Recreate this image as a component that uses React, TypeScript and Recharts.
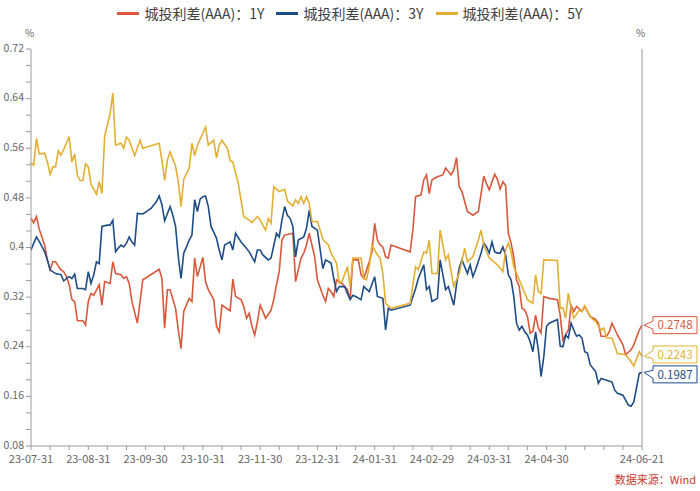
import React from 'react';
import { LineChart, Line, XAxis, YAxis } from 'recharts';

// 城投利差(AAA) 1Y / 3Y / 5Y，x 为交易日序号（0 = 23-07-31，224 = 24-06-21）
const SERIES_NAMES = ['城投利差(AAA)：1Y', '城投利差(AAA)：3Y', '城投利差(AAA)：5Y'];
const COLORS = ['#D9583B', '#1D4C87', '#E3AF32'];

const SPREAD_1Y: [number, number][] = [
  [0, 0.447], [1, 0.44], [2, 0.45], [3, 0.43], [4, 0.417], [5, 0.404], [6, 0.38], [7, 0.364], [8, 0.377], [9, 0.377],
  [10, 0.37], [11, 0.364], [12, 0.361], [13, 0.353], [14, 0.34], [15, 0.316], [16, 0.313], [17, 0.282], [19, 0.282],
  [20, 0.275], [21, 0.313], [22, 0.326], [23, 0.323], [25, 0.34], [26, 0.307], [27, 0.345], [29, 0.342], [30, 0.377],
  [31, 0.358], [33, 0.356], [34, 0.35], [35, 0.353], [36, 0.342], [37, 0.313], [39, 0.278], [41, 0.348], [47, 0.365],
  [48, 0.35], [49, 0.27], [50, 0.332], [51, 0.332], [53, 0.302], [54, 0.267], [55, 0.237], [56, 0.297], [58, 0.318],
  [59, 0.313], [60, 0.383], [61, 0.353], [63, 0.384], [64, 0.345], [65, 0.332], [67, 0.316], [68, 0.273], [69, 0.264],
  [70, 0.307], [73, 0.298], [74, 0.349], [75, 0.321], [77, 0.316], [78, 0.305], [79, 0.286], [80, 0.294], [81, 0.273],
  [82, 0.259], [83, 0.28], [84, 0.307], [85, 0.297], [86, 0.286], [88, 0.299], [89, 0.316], [90, 0.34], [91, 0.361],
  [92, 0.412], [93, 0.42], [96, 0.423], [97, 0.345], [99, 0.383], [100, 0.391], [101, 0.404], [102, 0.423], [104, 0.385],
  [105, 0.348], [107, 0.323], [108, 0.313], [109, 0.334], [110, 0.329], [111, 0.321], [112, 0.348], [114, 0.342],
  [116, 0.332], [117, 0.316], [118, 0.38], [120, 0.38], [121, 0.356], [122, 0.35], [124, 0.377], [125, 0.393],
  [126, 0.439], [127, 0.412], [128, 0.404], [129, 0.401], [130, 0.385], [131, 0.383], [132, 0.404], [139, 0.393],
  [140, 0.428], [141, 0.482], [143, 0.485], [144, 0.509], [145, 0.517], [146, 0.487], [147, 0.509], [149, 0.514],
  [151, 0.517], [152, 0.528], [154, 0.517], [155, 0.525], [156, 0.545], [157, 0.498], [158, 0.49], [160, 0.458],
  [162, 0.452], [164, 0.458], [166, 0.515], [167, 0.503], [168, 0.493], [170, 0.518], [171, 0.51], [172, 0.494],
  [173, 0.506], [174, 0.5], [175, 0.423], [176, 0.407], [177, 0.385], [178, 0.348], [179, 0.337], [180, 0.302],
  [181, 0.299], [182, 0.289], [183, 0.262], [184, 0.265], [185, 0.291], [186, 0.27], [187, 0.262], [188, 0.321],
  [190, 0.318], [193, 0.316], [194, 0.291], [195, 0.251], [197, 0.267], [198, 0.307], [199, 0.297], [200, 0.305],
  [202, 0.297], [203, 0.305], [205, 0.289], [207, 0.284], [208, 0.278], [209, 0.257], [211, 0.257], [212, 0.264],
  [213, 0.278], [215, 0.259], [217, 0.243], [218, 0.227], [220, 0.235], [221, 0.243], [223, 0.267], [224, 0.2748],
];

const SPREAD_3Y: [number, number][] = [
  [0, 0.396], [1, 0.407], [2, 0.417], [3, 0.41], [4, 0.402], [5, 0.393], [6, 0.38], [7, 0.364], [9, 0.358], [11, 0.356],
  [12, 0.346], [13, 0.35], [14, 0.353], [15, 0.35], [16, 0.357], [17, 0.334], [19, 0.334], [20, 0.332], [21, 0.361],
  [22, 0.342], [23, 0.356], [24, 0.377], [25, 0.374], [26, 0.434], [28, 0.436], [29, 0.436], [30, 0.444], [31, 0.393],
  [32, 0.399], [33, 0.404], [34, 0.401], [35, 0.407], [36, 0.417], [37, 0.409], [38, 0.404], [39, 0.455], [41, 0.454],
  [44, 0.463], [46, 0.474], [47, 0.483], [48, 0.469], [49, 0.443], [51, 0.466], [52, 0.452], [53, 0.434], [54, 0.385],
  [55, 0.35], [56, 0.391], [57, 0.401], [58, 0.412], [59, 0.42], [60, 0.477], [61, 0.458], [62, 0.478], [63, 0.482],
  [64, 0.483], [65, 0.466], [66, 0.434], [68, 0.415], [69, 0.396], [70, 0.38], [71, 0.404], [73, 0.409], [74, 0.396],
  [75, 0.423], [77, 0.409], [78, 0.404], [80, 0.393], [82, 0.377], [83, 0.396], [84, 0.396], [85, 0.388], [87, 0.38],
  [88, 0.383], [90, 0.423], [91, 0.417], [92, 0.444], [93, 0.466], [94, 0.452], [95, 0.447], [96, 0.434], [97, 0.385],
  [98, 0.412], [100, 0.417], [101, 0.431], [102, 0.46], [103, 0.434], [105, 0.428], [107, 0.366], [108, 0.38],
  [110, 0.375], [111, 0.35], [112, 0.329], [113, 0.337], [115, 0.337], [116, 0.326], [117, 0.316], [118, 0.323],
  [119, 0.321], [121, 0.316], [122, 0.337], [124, 0.329], [126, 0.353], [127, 0.321], [129, 0.318], [130, 0.267],
  [131, 0.302], [132, 0.299], [139, 0.307], [141, 0.334], [142, 0.35], [144, 0.372], [145, 0.332], [146, 0.337],
  [147, 0.313], [149, 0.318], [150, 0.38], [152, 0.332], [153, 0.337], [155, 0.307], [156, 0.34], [157, 0.367],
  [158, 0.38], [160, 0.358], [161, 0.372], [162, 0.353], [163, 0.364], [165, 0.391], [166, 0.407], [167, 0.401],
  [168, 0.391], [169, 0.409], [170, 0.393], [171, 0.391], [172, 0.391], [173, 0.401], [174, 0.388], [175, 0.356],
  [176, 0.348], [177, 0.321], [178, 0.278], [179, 0.267], [180, 0.273], [181, 0.264], [182, 0.259], [183, 0.248],
  [184, 0.232], [185, 0.264], [186, 0.235], [187, 0.192], [188, 0.224], [189, 0.273], [190, 0.278], [193, 0.284],
  [194, 0.241], [195, 0.24], [196, 0.259], [197, 0.254], [198, 0.278], [199, 0.267], [200, 0.257], [201, 0.259],
  [202, 0.254], [203, 0.232], [204, 0.23], [205, 0.211], [207, 0.2], [208, 0.181], [209, 0.189], [211, 0.186],
  [213, 0.183], [214, 0.17], [215, 0.165], [217, 0.162], [218, 0.154], [219, 0.146], [220, 0.144], [221, 0.151],
  [223, 0.197], [224, 0.1987],
];

const SPREAD_5Y: [number, number][] = [
  [0, 0.536], [1, 0.533], [2, 0.576], [3, 0.551], [5, 0.552], [6, 0.538], [7, 0.518], [8, 0.53], [9, 0.53], [10, 0.556],
  [11, 0.549], [12, 0.558], [14, 0.579], [15, 0.538], [16, 0.551], [17, 0.516], [18, 0.508], [19, 0.508], [20, 0.535],
  [21, 0.53], [22, 0.502], [24, 0.486], [25, 0.506], [26, 0.487], [27, 0.579], [29, 0.616], [30, 0.649], [31, 0.565],
  [33, 0.568], [34, 0.56], [35, 0.578], [36, 0.573], [38, 0.548], [40, 0.573], [41, 0.56], [47, 0.568], [48, 0.54],
  [49, 0.508], [50, 0.541], [51, 0.554], [53, 0.531], [54, 0.506], [55, 0.466], [56, 0.51], [58, 0.528], [59, 0.568],
  [60, 0.548], [61, 0.565], [64, 0.594], [65, 0.565], [67, 0.573], [68, 0.544], [69, 0.565], [70, 0.573], [72, 0.56],
  [73, 0.54], [74, 0.538], [76, 0.503], [78, 0.45], [80, 0.444], [81, 0.44], [83, 0.45], [84, 0.444], [86, 0.428],
  [87, 0.447], [88, 0.439], [89, 0.498], [91, 0.49], [93, 0.494], [94, 0.475], [96, 0.467], [97, 0.477], [98, 0.471],
  [99, 0.482], [100, 0.471], [101, 0.482], [102, 0.471], [103, 0.442], [105, 0.442], [106, 0.428], [107, 0.413],
  [109, 0.404], [110, 0.391], [112, 0.375], [113, 0.342], [114, 0.345], [116, 0.369], [117, 0.337], [118, 0.383],
  [121, 0.383], [122, 0.35], [123, 0.348], [124, 0.369], [125, 0.404], [127, 0.388], [128, 0.383], [129, 0.358],
  [130, 0.31], [132, 0.302], [139, 0.31], [141, 0.369], [142, 0.364], [144, 0.393], [145, 0.391], [146, 0.412],
  [147, 0.358], [149, 0.358], [150, 0.428], [152, 0.38], [153, 0.388], [154, 0.361], [155, 0.337], [157, 0.358],
  [159, 0.399], [160, 0.377], [162, 0.385], [164, 0.412], [165, 0.428], [166, 0.404], [168, 0.383], [171, 0.372],
  [173, 0.361], [174, 0.396], [175, 0.407], [176, 0.393], [177, 0.369], [179, 0.348], [182, 0.316], [184, 0.31],
  [185, 0.356], [186, 0.329], [187, 0.326], [188, 0.38], [193, 0.379], [194, 0.302], [195, 0.303], [196, 0.286],
  [197, 0.326], [198, 0.302], [199, 0.286], [201, 0.299], [202, 0.297], [203, 0.306], [205, 0.289], [206, 0.284],
  [207, 0.281], [209, 0.267], [210, 0.27], [211, 0.254], [213, 0.254], [215, 0.229], [217, 0.228], [218, 0.227],
  [220, 0.216], [221, 0.209], [223, 0.232], [224, 0.2243],
];

// x 轴：每 7 个交易日一个刻度，标签日期
const X_TICKS = [0, 7, 14, 21, 28, 35, 42, 49, 56, 63, 70, 77, 84, 91, 98, 105, 112, 119, 126, 133, 140, 147, 154, 161, 168, 175, 182, 189, 196, 203, 210, 217, 224];
const X_LABEL_DAYS = [0, 21, 42, 63, 84, 105, 126, 147, 168, 189, 224];
const X_LABELS = ['23-07-31', '23-08-31', '23-09-30', '23-10-31', '23-11-30', '23-12-31', '24-01-31', '24-02-29', '24-03-31', '24-04-30', '24-06-21'];

const Y_LABELS = [0.08, 0.16, 0.24, 0.32, 0.4, 0.48, 0.56, 0.64, 0.72];
// 主刻度之间两个次刻度
const Y_TICKS = Y_LABELS.flatMap((v, i) =>
  i === 0 ? [v] : [+(Y_LABELS[i - 1] + 0.08 / 3).toFixed(5), +(Y_LABELS[i - 1] + 0.16 / 3).toFixed(5), v]
);

// 末值标注的上下微调（避免重叠）
const END_SHIFT = [0, 2, -2];

const FONT = '"Noto Sans CJK SC", "Noto Sans", sans-serif';
const AXIS_COLOR = '#9a9a9a';
const TEXT_COLOR = '#666';

const toRows = (pts: [number, number][]) => pts.map(([d, v]) => ({ d, v }));
const SERIES = [SPREAD_1Y, SPREAD_3Y, SPREAD_5Y].map(toRows);

const fmtX = (d: number) => {
  const i = X_LABEL_DAYS.indexOf(d);
  return i >= 0 ? X_LABELS[i] : '';
};
const fmtY = (v: number) => (Y_LABELS.some((l) => Math.abs(l - v) < 1e-6) ? String(+v.toFixed(2)) : '');

// y 轴刻度文字，略微上移，避开 x 轴第一个标签
const YTick = (anchor: 'start' | 'end') => (props: any) => {
  const { x, y, payload } = props;
  const text = fmtY(payload.value);
  if (!text) return null;
  return (
    <text x={x} y={y - 1} dy="0.35em" textAnchor={anchor} fill={TEXT_COLOR} fontSize={10.5} fontFamily={FONT}>
      {text}
    </text>
  );
};

const endLabel = (color: string, last: number, shift: number) => (props: any) => {
  const { x, y, index, value } = props;
  if (index !== last) return null;
  const bx = x + 11;
  const w = 44;
  const h = 17;
  const cy = y + shift;
  const top = cy - h / 2;
  const d = `M${bx},${top} H${bx + w} V${top + h} H${bx} V${cy + 4} L${x + 2},${y} L${bx},${cy - 4} Z`;
  return (
    <g>
      <path d={d} fill="#fff" stroke={color} strokeWidth={1} />
      <text x={bx + w / 2} y={cy} dy="0.36em" textAnchor="middle" fill={color} fontSize={11.5} fontFamily={FONT}>
        {Number(value).toFixed(4)}
      </text>
    </g>
  );
};

export default function App() {
  return (
    <div style={{ position: 'absolute', left: 0, top: 0, width: 700, height: 491, background: '#fff', fontFamily: FONT }}>
      {/* legend */}
      <div
        style={{
          position: 'absolute',
          top: 2,
          left: 0,
          width: 700,
          display: 'flex',
          justifyContent: 'center',
          gap: 12,
          fontSize: 14,
          color: '#404040',
          lineHeight: '22px',
        }}
      >
        {SERIES_NAMES.map((name, i) => (
          <div key={name} style={{ display: 'flex', alignItems: 'center' }}>
            <span style={{ display: 'inline-block', width: 22, height: 3, background: COLORS[i], marginRight: 5 }} />
            <span>{name}</span>
          </div>
        ))}
      </div>
      <div style={{ position: 'absolute', left: 25, top: 25, fontSize: 10, color: TEXT_COLOR }}>%</div>
      <div style={{ position: 'absolute', left: 636, top: 25, fontSize: 10, color: TEXT_COLOR }}>%</div>

      <LineChart width={700} height={491} margin={{ top: 49, right: 0, bottom: 15, left: 0 }} style={{ fontFamily: FONT }}>
        <XAxis
          type="number"
          dataKey="d"
          domain={[0, 224]}
          ticks={X_TICKS}
          interval={0}
          tickFormatter={fmtX}
          height={30}
          tickSize={4}
          tickMargin={5}
          stroke={AXIS_COLOR}
          tick={{ fill: TEXT_COLOR, fontSize: 11 }}
        />
        <YAxis
          yAxisId="left"
          domain={[0.08, 0.72]}
          ticks={Y_TICKS}
          interval={0}
          width={31}
          tickSize={5}
          tickMargin={2}
          stroke={AXIS_COLOR}
          tick={YTick('end')}
        />
        <YAxis
          yAxisId="right"
          orientation="right"
          domain={[0.08, 0.72]}
          ticks={Y_TICKS}
          interval={0}
          width={58}
          tickSize={5}
          tickMargin={1}
          stroke={AXIS_COLOR}
          tick={YTick('start')}
        />
        {SERIES.map((rows, i) => (
          <Line
            key={SERIES_NAMES[i]}
            yAxisId="left"
            data={rows}
            dataKey="v"
            name={SERIES_NAMES[i]}
            stroke={COLORS[i]}
            strokeWidth={1.6}
            dot={false}
            type="linear"
            isAnimationActive={false}
            label={endLabel(COLORS[i], rows.length - 1, END_SHIFT[i])}
          />
        ))}
      </LineChart>

      <div style={{ position: 'absolute', right: 4, top: 471, fontSize: 11, color: '#C8372D' }}>数据来源：Wind</div>
    </div>
  );
}
